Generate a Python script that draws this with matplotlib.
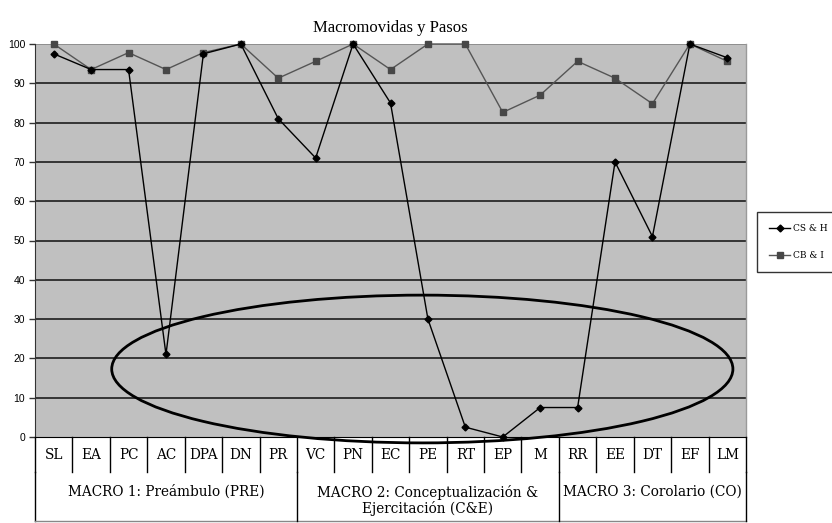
import matplotlib
matplotlib.use("Agg")
import matplotlib.pyplot as plt
from matplotlib.patches import Ellipse

categories = ["SL", "EA", "PC", "AC", "DPA", "DN", "PR", "VC", "PN", "EC", "PE",
              "RT", "EP", "M", "RR", "EE", "DT", "EF", "LM"]
cs_h = [97.5, 93.5, 93.5, 21, 97.5, 100, 81, 71, 100, 85, 30, 2.5, 0, 7.5, 7.5, 70, 51, 100, 96.5]
cb_i = [100, 93.5, 97.8, 93.5, 97.8, 100, 91.3, 95.6, 100, 93.5, 100, 100, 82.6, 87, 95.6, 91.3, 84.8, 100, 95.6]
groups = ["MACRO 1: Preámbulo (PRE)", "MACRO 2: Conceptualización &\nEjercitación (C&E)",
          "MACRO 3: Corolario (CO)"]
group_sizes = [7, 7, 5]
yticks = list(range(0, 101, 10))

W, H = 832, 523
fig = plt.figure(figsize=(W / 100, H / 100), dpi=100)
L, R, T, B = 35, 746, 44, 437
ax = fig.add_axes([L / W, 1 - B / H, (R - L) / W, (B - T) / H])
ax.set_facecolor("#c0c0c0")

n = len(categories)
x = list(range(n))
ax.plot(x, cs_h, color="black", lw=1.0, marker="D", markersize=3.5, label="CS & H", zorder=4,
        clip_on=False)
ax.plot(x, cb_i, color="#555555", lw=1.0, marker="s", markersize=5, markerfacecolor="#474747",
        markeredgecolor="#474747", label="CB & I", zorder=3, clip_on=False)

ax.set_xlim(-0.5, n - 0.5)
ax.set_ylim(0, 100)
ax.set_yticks(yticks)
ax.set_yticklabels([str(v) for v in yticks], fontsize=7.5, family="Liberation Sans")
ax.set_xticks([])
for v in yticks[1:-1]:
    ax.axhline(v, color="#2a2a2a", lw=1.3, zorder=1)
ax.axhline(100, color="#8a8a8a", lw=1.3, zorder=1)
for s in ["top", "right"]:
    ax.spines[s].set_visible(False)
ax.spines["left"].set_color("#333333")
ax.spines["bottom"].set_color("black")
ax.plot([n - 0.5, n - 0.5], [0, 100], color="#9a9a9a", lw=1, clip_on=False)
ax.tick_params(axis="y", direction="out", length=4, width=1, color="#333333", pad=3)

# Ellipse
ell = Ellipse((9.85, 17.3), 16.6, 37.6, fill=False, edgecolor="black", lw=2, clip_on=False, zorder=5)
ax.add_patch(ell)

# Category table below
tr = ax.get_xaxis_transform()
y_tick_bot = -35 / (B - T)
y_box_bot = -84 / (B - T)
for i in range(n + 1):
    ax.plot([i - 0.5, i - 0.5], [0, y_tick_bot], color="black", lw=1, transform=tr, clip_on=False)
for i, c in enumerate(categories):
    ax.text(i, -18 / (B - T), c, transform=tr, ha="center", va="center", fontsize=9.8,
            family="DejaVu Serif")
start = 0
ax.plot([-0.5, -0.5], [y_tick_bot, y_box_bot], color="black", lw=1, transform=tr, clip_on=False)
ax.plot([-0.5, n - 0.5], [y_box_bot, y_box_bot], color="#888888", lw=1, transform=tr, clip_on=False)
for g, size in zip(groups, group_sizes):
    end = start + size
    ax.plot([end - 0.5, end - 0.5], [y_tick_bot, y_box_bot], color="black", lw=1, transform=tr,
            clip_on=False)
    ax.text((start + end - 1) / 2, -63.5 / (B - T) if "\n" in g else -55 / (B - T), g,
            transform=tr, ha="center", va="center", fontsize=9.8, family="DejaVu Serif",
            linespacing=1.15)
    start = end

ax.set_title("Macromovidas y Pasos", fontsize=12, family="Liberation Serif", pad=9)

leg = fig.legend(loc="upper left", bbox_to_anchor=(757 / W, 1 - 270 / H, 100 / W, 58 / H),
                 mode="expand",
                 prop={"family": "DejaVu Serif", "size": 6.5}, frameon=True, fancybox=False,
                 edgecolor="black", borderpad=1.3, labelspacing=2.0, handlelength=2.4,
                 handletextpad=0.3, borderaxespad=0)
leg.get_frame().set_linewidth(1)

fig.savefig("out.png", dpi=100, facecolor="white")
